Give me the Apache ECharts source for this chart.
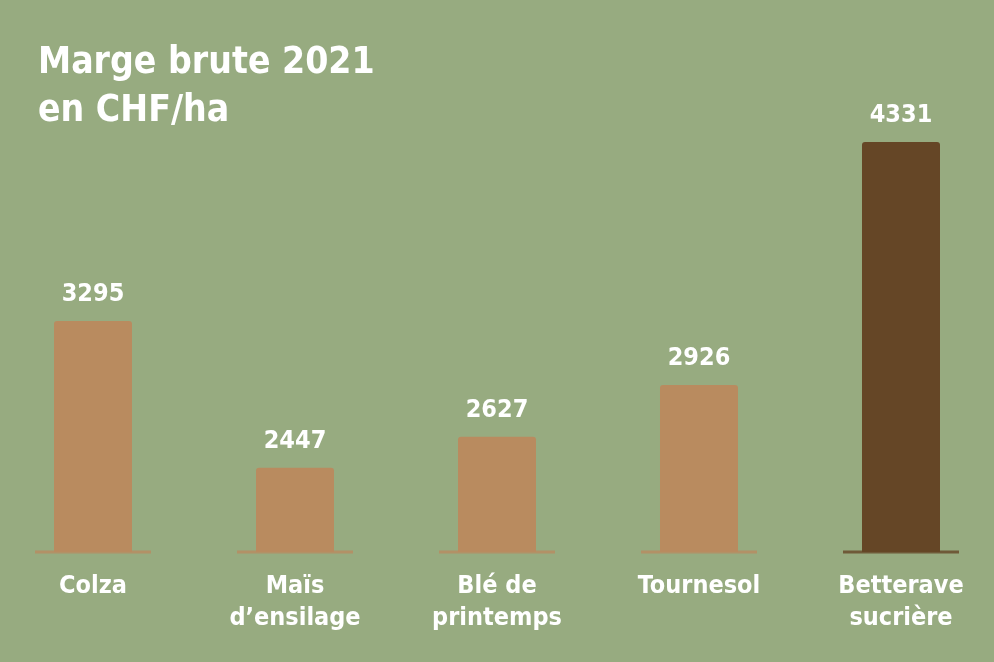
<!DOCTYPE html>
<html><head><meta charset="utf-8">
<script src="https://cdn.jsdelivr.net/npm/echarts@6/dist/echarts.min.js"></script>
<style>html,body{margin:0;padding:0;background:#97ab80}#c{width:994px;height:662px}</style>
</head><body><div id="c"></div>
<script>
const categories = ["Colza", "Maïs\nd’ensilage", "Blé de\nprintemps", "Tournesol", "Betterave\nsucrière"];
const values = [3295, 2447, 2627, 2926, 4331];
const highlight = [false, false, false, false, true];
const yMin = 1960, yMax = 4400;
const xMin = -0.4604, xMax = 4.4604;
const FONT = "'Liberation Sans Narrow','DejaVu Sans Condensed','Roboto Condensed',sans-serif";
const TAN = '#b98b5f', DARK = '#654626';
const idx = categories.map((c, i) => i);
const chart = echarts.init(document.getElementById('c'));
chart.setOption({
  backgroundColor: '#97ab80',
  animation: false,
  title: {
    text: 'Marge brute 2021\nen CHF/ha', left: 33, top: 34,
    textStyle: {color: '#fff', fontFamily: FONT, fontWeight: 'bold', fontSize: 37, lineHeight: 48}
  },
  grid: {left: 0, right: 0, top: 130, bottom: 110, outerBoundsMode: 'none'},
  xAxis: {
    type: 'value', min: xMin, max: xMax,
    axisLine: {show: false}, axisTick: {show: false}, splitLine: {show: false},
    axisLabel: {
      customValues: idx, formatter: v => categories[Math.round(v)],
      color: '#fff', fontFamily: FONT, fontWeight: 'bold', fontSize: 25, lineHeight: 32, margin: 18
    }
  },
  yAxis: {type: 'value', min: yMin, max: yMax, show: false, splitLine: {show: false}},
  series: [{
    type: 'bar', barWidth: 78,
    data: values.map((v, i) => ({value: [i, v], itemStyle: {color: highlight[i] ? DARK : TAN}})),
    itemStyle: {borderRadius: [3, 3, 0, 0]},
    label: {show: true, position: 'top', distance: 14, color: '#fff', fontFamily: FONT, fontWeight: 'bold', fontSize: 25,
      formatter: p => p.value[1]}
  }, {
    type: 'scatter', symbol: 'rect', symbolSize: [116, 3], z: 5,
    data: values.map((v, i) => ({value: [i, yMin], itemStyle: {color: highlight[i] ? DARK : TAN}})),
    silent: true
  }]
});
</script></body></html>
